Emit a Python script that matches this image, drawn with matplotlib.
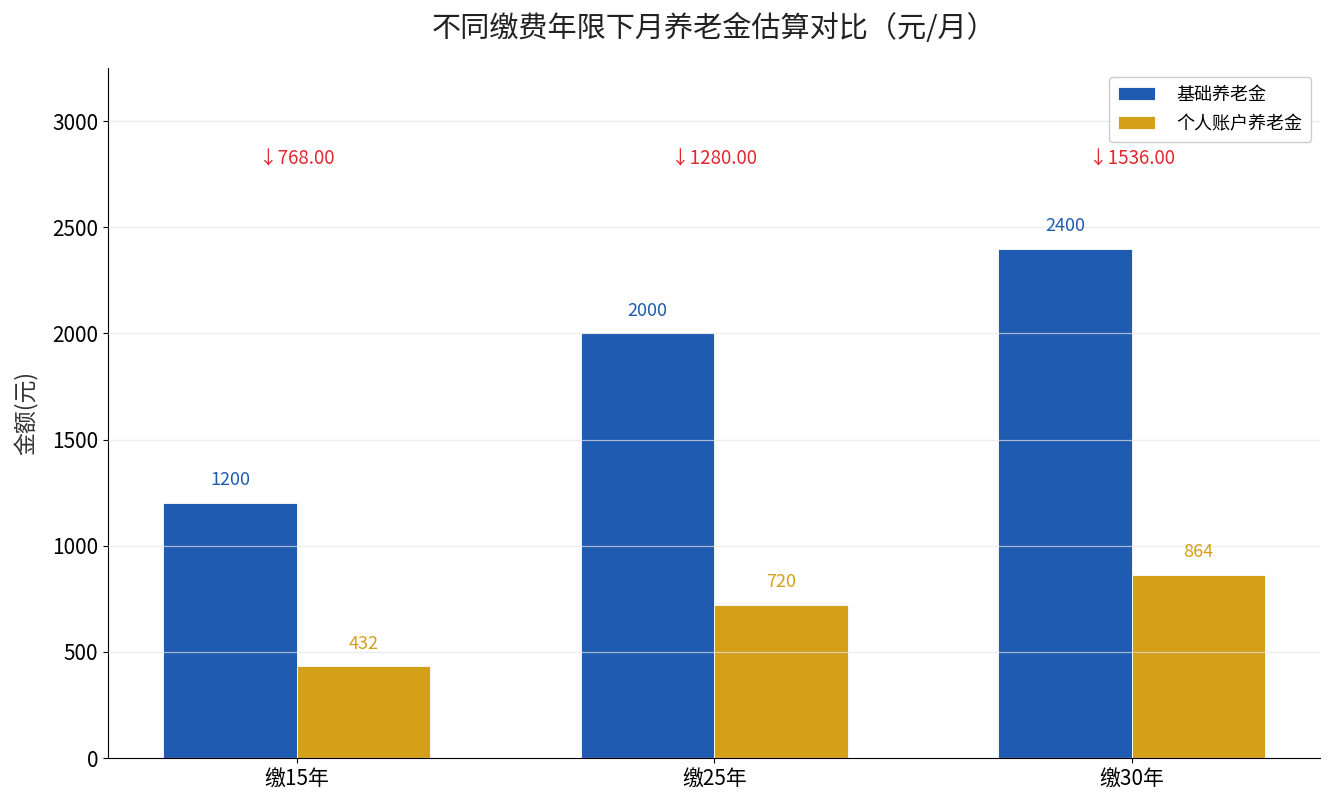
import matplotlib
matplotlib.use("Agg")
import matplotlib.pyplot as plt
import numpy as np

plt.rcParams["font.family"] = ["Noto Sans CJK SC", "DejaVu Sans"]

years = ["缴15年", "缴25年", "缴30年"]
basic = [1200, 2000, 2400]
personal = [432, 720, 864]
series_names = ["基础养老金", "个人账户养老金"]

BLUE = "#1f5bb0"
GOLD = "#d4a01a"
RED = "#e0282e"

x = np.arange(len(years))
w = 0.32

fig, ax = plt.subplots(figsize=(13.35, 8.1), dpi=100)
b1 = ax.bar(x - w / 2, basic, w, color=BLUE, edgecolor="white", linewidth=0.6,
            label=series_names[0])
b2 = ax.bar(x + w / 2, personal, w, color=GOLD, edgecolor="white", linewidth=0.6,
            label=series_names[1])

for bars, col in ((b1, BLUE), (b2, GOLD)):
    for r in bars:
        ax.annotate(f"{r.get_height():.0f}", (r.get_x() + r.get_width() / 2, r.get_height()),
                    xytext=(0, 10), textcoords="offset points",
                    ha="center", va="bottom", color=col, fontsize=13)

for i in range(len(years)):
    diff = basic[i] - personal[i]
    ax.text(x[i], 2820, f"↓{diff:.2f}", ha="center", va="center",
            color=RED, fontsize=13.5)

ax.set_ylim(0, 3250)
ax.set_yticks(range(0, 3001, 500))
ax.set_xticks(x)
ax.set_xticklabels(years, fontsize=15)
ax.tick_params(axis="y", labelsize=15)
ax.set_ylabel("金额(元)", fontsize=16.5, color="#333333", labelpad=10)
ax.set_title("不同缴费年限下月养老金估算对比（元/月）", fontsize=21, pad=22, color="#222222")
ax.yaxis.grid(True, color="#e4e4e4", linewidth=0.9, alpha=0.7)
ax.set_axisbelow(False)
ax.spines["top"].set_visible(False)
ax.spines["right"].set_visible(False)
ax.legend(loc="upper right", fontsize=13, frameon=True, framealpha=1,
          edgecolor="#cccccc", handlelength=2.0, handletextpad=1.2,
          labelspacing=0.6, borderpad=0.5)

fig.subplots_adjust(left=0.081, right=0.989, top=0.916, bottom=0.064)
fig.savefig("out.png", dpi=100)
